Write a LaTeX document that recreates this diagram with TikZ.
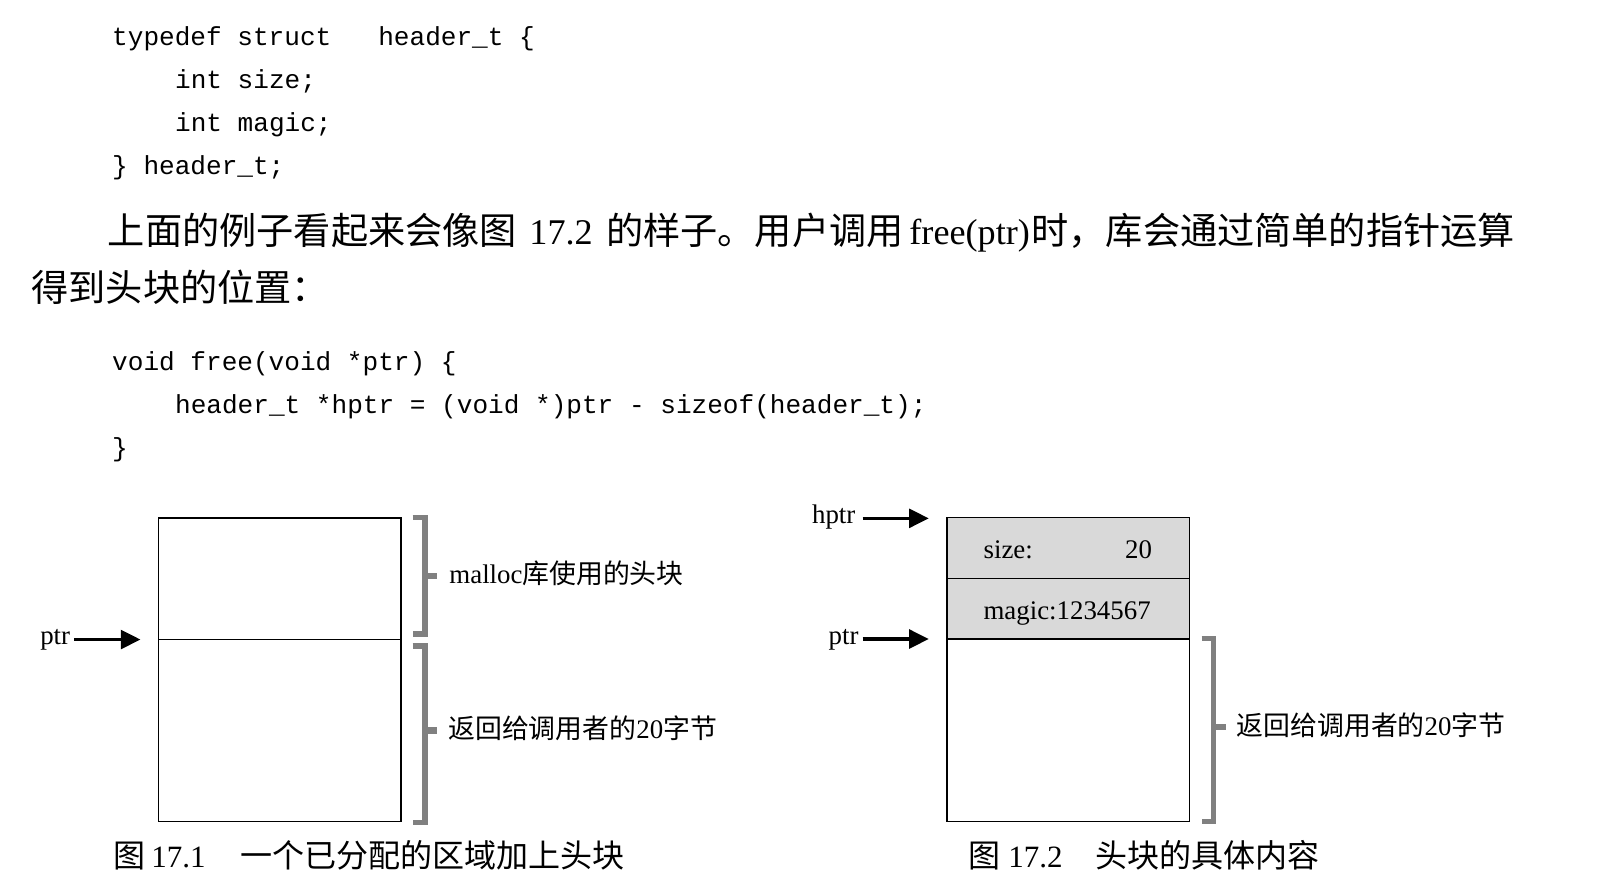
\documentclass[tikz,border=0pt]{standalone}
\usepackage{fontspec}
\setmainfont{Liberation Serif}
\newfontfamily\cjk{Noto Sans CJK SC}
\newfontfamily\codefont{Liberation Mono}
\usetikzlibrary{arrows.meta}
\newcommand\fs[1]{\fontsize{#1}{#1}\selectfont}
\definecolor{hdrgray}{RGB}{217,217,217}
\definecolor{brkgray}{RGB}{128,128,128}
\begin{document}
\begin{tikzpicture}[x=1pt,y=-1pt,
  txt/.style={anchor=base west, inner sep=0pt, outer sep=0pt},
  code/.style={txt, font=\codefont\fs{25.25}},
  cell/.style={draw=black, line width=1.3pt, anchor=north west, inner sep=0pt, outer sep=0pt},
  hdr/.style={cell, fill=hdrgray},
  brk/.style={draw=brkgray, line width=5pt, line join=miter},
  tick/.style={draw=brkgray, line width=6pt},
  parr/.style={line width=3.5pt, -{Triangle[length=19pt,width=18pt]}},
  lbl/.style={txt, font=\fs{26}},
]
\fill[white] (0,0) rectangle (1568,863);
\useasboundingbox (0,0) rectangle (1568,863);

% code block 1
\node[code] (c1) at (108.6,44.5) {typedef struct~~~header\_t \{};
\node[code] (c2) at (169.5,86) {int size;};
\node[code] (c3) at (169.5,127.5) {int magic;};
\node[code] (c4) at (108.6,169) {\} header\_t;};

% paragraph
\node[txt, font=\fs{36}] (p1) at (104.5,237) {{\cjk 上面的例子看起来会像图}\hspace{12pt}{\fs{35}17.2}\hspace{13pt}{\cjk 的样子。用户调用}\hspace{5.5pt}{\fs{35}free(ptr)}\hspace{1.5pt}{\cjk 时，库会通过简单的指针运算}};
\node[txt, font=\cjk\fs{36}] (p2) at (30.5,291.5) {得到头块的位置：};

% code block 2
\node[code] (c5) at (108.6,358.5) {void free(void *ptr) \{};
\node[code] (c6) at (169.5,400) {header\_t *hptr = (void *)ptr - sizeof(header\_t);};
\node[code] (c7) at (108.6,441.5) {\}};

% ---------- figure 17.1 ----------
\node[cell, minimum width=234.6pt, minimum height=117.5pt] (h1) at (153.4,501.5) {};
\node[cell, minimum width=234.6pt, minimum height=176pt] (u1) at (153.4,619) {};

\draw[brk] (399.4,501) -- (411.3,501) -- (411.3,613.7) -- (399.4,613.7);
\draw[tick] (411.3,557.4) -- (423.3,557.4);
\draw[brk] (399.4,625.2) -- (411.3,625.2) -- (411.3,796) -- (399.4,796);
\draw[tick] (411.3,707) -- (423.3,707);

\node[lbl] (lab1) at (435,565) {malloc{\cjk 库使用的头块}};
\node[lbl] (lab2) at (434,715) {{\cjk 返回给调用者的}20{\cjk 字节}};

\node[lbl] (ptr1) at (39,624) {ptr};
\coordinate (a1s) at (72,619);
\coordinate (a1e) at (136,619);
\draw[parr] (a1s) -- (a1e);

\node[txt, font=\fs{30}] (cap1) at (109.5,840) {{\cjk\fs{31}图}\hspace{6pt}17.1\hspace{33.5pt}{\cjk\fs{31}一个已分配的区域加上头块}};

% ---------- figure 17.2 ----------
\node[hdr, minimum width=234.9pt, minimum height=58.8pt] (sz) at (916.6,501) {};
\node[hdr, minimum width=234.9pt, minimum height=58.7pt] (mg) at (916.6,559.8) {};
\node[cell, minimum width=234.9pt, minimum height=176.5pt] (u2) at (916.6,618.5) {};

\node[lbl] (szl) at (952,541) {size:};
\node[lbl] (szv) at (1089,541) {20};
\node[lbl] (mgl) at (952,599.5) {magic:1234567};

\node[lbl] (hptr) at (786,506.5) {hptr};
\coordinate (a2s) at (835,501.7);
\coordinate (a2e) at (899,501.7);
\draw[parr] (a2s) -- (a2e);

\node[lbl] (ptr2) at (802,624) {ptr};
\coordinate (a3s) at (835,618.5);
\coordinate (a3e) at (899,618.5);
\draw[parr] (a3s) -- (a3e);

\draw[brk] (1163,618) -- (1174.6,618) -- (1174.6,795) -- (1163,795);
\draw[tick] (1174.6,704) -- (1187,704);

\node[lbl] (lab3) at (1197,712) {{\cjk 返回给调用者的}20{\cjk 字节}};

\node[txt, font=\fs{30}] (cap2) at (937.5,840) {{\cjk\fs{31}图}\hspace{7.5pt}17.2\hspace{31.5pt}{\cjk\fs{31}头块的具体内容}};
\end{tikzpicture}
\end{document}
